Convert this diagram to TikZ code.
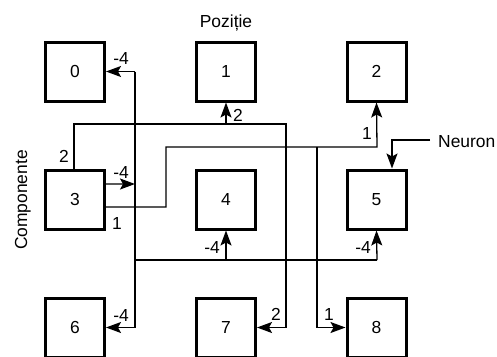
\documentclass[tikz,border=0pt]{standalone}
\usepackage{fontspec}
\setmainfont{Liberation Sans}
\usetikzlibrary{arrows.meta}
\begin{document}
\begin{tikzpicture}[x=1bp,y=-1bp,
  box/.style={draw,line width=3bp,minimum size=59bp,inner sep=0pt,font=\fontsize{17.5}{20}\selectfont},
  conn/.style={line width=1.3bp},
  arr/.style={conn,-{Stealth[length=15bp,width=11bp,inset=3bp]}},
  lbl/.style={inner sep=0pt,font=\fontsize{17.5}{20}\selectfont},
  ttl/.style={inner sep=0pt,font=\fontsize{17.5}{20}\selectfont}]
\useasboundingbox (0,0) rectangle (497,356);
\clip (0,0) rectangle (497,356);
% boxes
\node[box] (b0) at (75,71.5) {0};
\node[box] (b1) at (226,71.5) {1};
\node[box] (b2) at (376.5,71.5) {2};
\node[box] (b3) at (75,199.5) {3};
\node[box] (b4) at (226,199.5) {4};
\node[box] (b5) at (376.5,199.5) {5};
\node[box] (b6) at (75,327.5) {6};
\node[box] (b7) at (226,327.5) {7};
\node[box] (b8) at (376.5,327.5) {8};
% titles
\node[ttl,anchor=base] (tpoz) at (226,27) {Poziție};
\node[ttl,anchor=base,rotate=90] (tcomp) at (27,200) {Componente};
\node[ttl,anchor=base west] (tneur) at (438,147) {Neuron};
% coordinates
\coordinate (J0) at (135,71.5);
\coordinate (J3) at (135,184);
\coordinate (J6) at (135,327.5);
\coordinate (H0) at (135,260);
\coordinate (H1) at (377,260);
\coordinate (A0) at (74,124);
\coordinate (A1) at (286,124);
\coordinate (A2) at (286,327.5);
\coordinate (B0) at (166,207);
\coordinate (B1) at (166,147);
\coordinate (B2) at (377,147);
\coordinate (C0) at (317,147);
\coordinate (C1) at (317,327.5);
\coordinate (N0) at (430,140);
\coordinate (N1) at (392,140);
% column from 3 (weights -4)
\draw[conn] (J0) -- (J6);
\draw[arr] (J0) -- (b0.east);
\draw[arr] (J6) -- (b6.east);
\draw[arr] ([yshift=15.5bp]b3.east) -- (J3);
\draw[conn] (H0) -- (H1);
\draw[arr] (b4.south |- H0) -- (b4.south);
\draw[arr] (H1) -- (b5.south);
% weights 2
\draw[arr] ([xshift=-1bp]b3.north) -- (A0) -- (A1) -- (A2) -- (b7.east);
\draw[arr] (b1.south |- A0) -- (b1.south);
% weights 1
\draw[arr] ([yshift=-7.5bp]b3.east) -- (B0) -- (B1) -- (B2) -- (b2.south);
\draw[arr] (C0) -- (C1) -- (b8.west);
% neuron pointer
\draw[arr] (N0) -- (N1) -- (N1 |- b5.north);
% labels
\node[lbl] (l0) at (121,58) {-4};
\node[lbl] (l3) at (121,172) {-4};
\node[lbl] (l3b) at (117,223) {1};
\node[lbl] (l3c) at (64,156) {2};
\node[lbl] (l1) at (238,115) {2};
\node[lbl] (l2) at (367,133) {1};
\node[lbl] (l4) at (212,247) {-4};
\node[lbl] (l5) at (363,247) {-4};
\node[lbl] (l6) at (121,315) {-4};
\node[lbl] (l7) at (276,314) {2};
\node[lbl] (l8) at (329,314) {1};
\end{tikzpicture}
\end{document}
